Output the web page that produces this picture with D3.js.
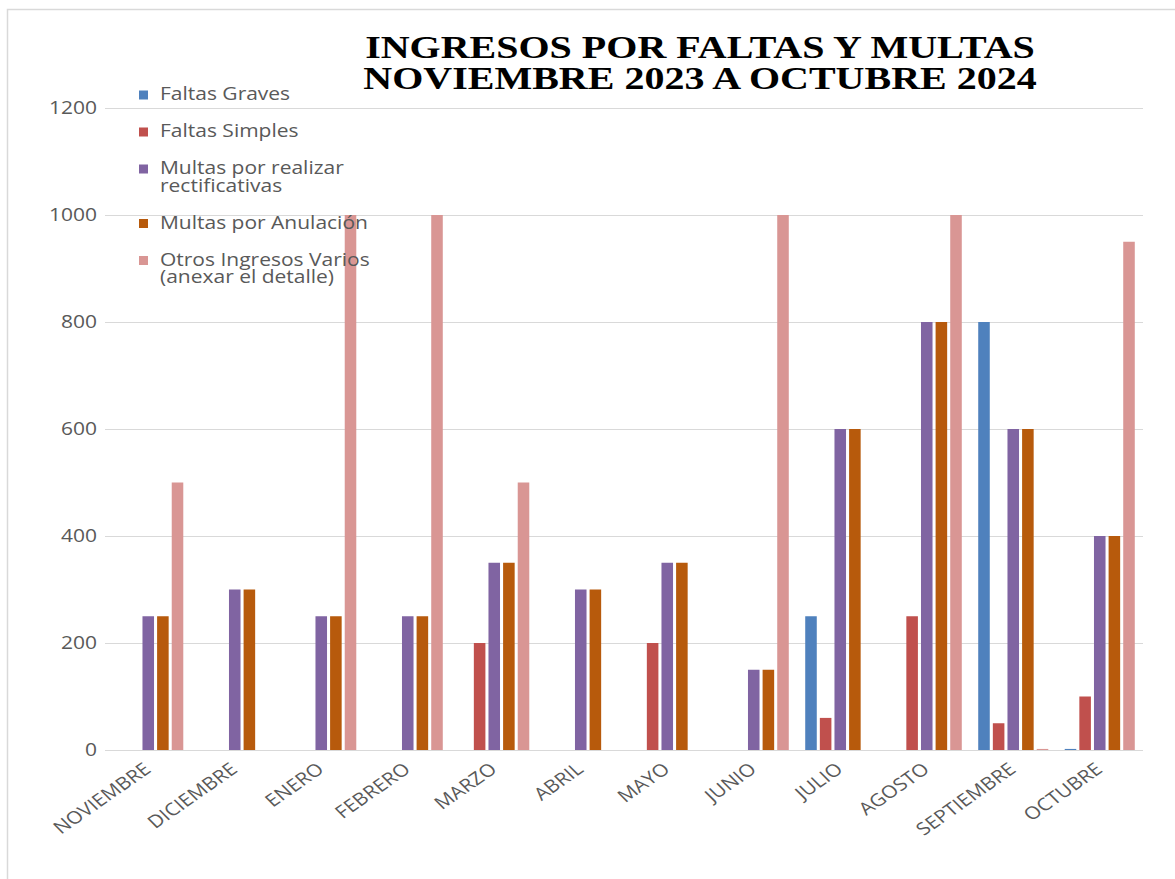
<!DOCTYPE html>
<html>
<head>
<meta charset="utf-8">
<script src="https://cdn.jsdelivr.net/npm/d3@7"></script>
<style>
  body { margin: 0; background: #fff; }
  svg { display: block; }
</style>
</head>
<body>
<svg id="chart" width="1175" height="879"></svg>
<script>
// ---------- data ----------
const months = ["NOVIEMBRE", "DICIEMBRE", "ENERO", "FEBRERO", "MARZO", "ABRIL",
                "MAYO", "JUNIO", "JULIO", "AGOSTO", "SEPTIEMBRE", "OCTUBRE"];
const seriesKeys = ["graves", "simples", "rectificativas", "anulacion", "otros"];
const legendLabels = [
  ["Faltas Graves"],
  ["Faltas Simples"],
  ["Multas por realizar", "rectificativas"],
  ["Multas por Anulación"],
  ["Otros Ingresos Varios", "(anexar el detalle)"]
];
const faltasGraves         = [0, 0, 0, 0, 0, 0, 0, 0, 250, 0, 800, 2];
const faltasSimples        = [0, 0, 0, 0, 200, 0, 200, 0, 60, 250, 50, 100];
const multasRectificativas = [250, 300, 250, 250, 350, 300, 350, 150, 600, 800, 600, 400];
const multasAnulacion      = [250, 300, 250, 250, 350, 300, 350, 150, 600, 800, 600, 400];
const otrosIngresos        = [500, 0, 1000, 1000, 500, 0, 0, 1000, 0, 1000, 2, 950];
const yTicks = [0, 200, 400, 600, 800, 1000, 1200];
const titleLines = ["INGRESOS POR FALTAS Y MULTAS", "NOVIEMBRE 2023 A OCTUBRE 2024"];
const seriesColors = ["#4f81bd", "#c0504d", "#8064a2", "#b75a0c", "#d99694"];

// ---------- build table ----------
const seriesValues = [faltasGraves, faltasSimples, multasRectificativas, multasAnulacion, otrosIngresos];
const table = months.map((m, i) => {
  const row = { month: m };
  seriesKeys.forEach((k, j) => row[k] = seriesValues[j][i]);
  return row;
});

// ---------- layout ----------
const SX = 1.2;              // horizontal text stretch of the original picture
const FONT = "'Open Sans', 'Noto Sans', sans-serif";
const TXT = "#595959";
const plot = { left: 105, right: 1143, top: 108, bottom: 750 };

const svg = d3.select("#chart");

// frame
svg.append("path")
  .attr("d", "M7.5,879 L7.5,9.5 L1175,9.5")
  .attr("fill", "none").attr("stroke", "#d9d9d9").attr("stroke-width", 1.5);

const x0 = d3.scaleBand().domain(months).range([plot.left, plot.right])
  .paddingInner(0.19).paddingOuter(0.095);
const x1 = d3.scaleBand().domain(seriesKeys).range([0, x0.bandwidth()])
  .paddingInner(0.21);
const y = d3.scaleLinear().domain([0, 1200]).range([plot.bottom, plot.top]);
const color = d3.scaleOrdinal().domain(seriesKeys).range(seriesColors);

// gridlines
svg.append("g").selectAll("line").data(yTicks).join("line")
  .attr("x1", plot.left).attr("x2", plot.right)
  .attr("y1", d => Math.round(y(d)) + 0.5).attr("y2", d => Math.round(y(d)) + 0.5)
  .attr("stroke", "#d9d9d9").attr("stroke-width", 1.2);

// helper for horizontally stretched (possibly multi-line) text
function stretchedText(parent, x, yPos, lines, opts = {}) {
  const sx = opts.sx || SX;
  const g = parent.append("g")
    .attr("transform", `translate(${x},${yPos}) scale(${sx},1)` + (opts.rotate ? ` rotate(${opts.rotate})` : ""));
  const t = g.append("text")
    .attr("x", 0).attr("y", 0)
    .attr("font-family", opts.family || FONT)
    .attr("font-size", opts.size || 17.5)
    .attr("font-weight", opts.weight || "normal")
    .attr("fill", opts.fill || TXT)
    .attr("text-anchor", opts.anchor || "start");
  if (opts.baseline) t.attr("dominant-baseline", opts.baseline);
  const arr = Array.isArray(lines) ? lines : [lines];
  arr.forEach((ln, i) => {
    t.append("tspan").attr("x", 0).attr("dy", i === 0 ? 0 : (opts.lineHeight || 17.5)).text(ln);
  });
  return t;
}

// y tick labels
const yAxisG = svg.append("g");
yTicks.forEach(v => {
  stretchedText(yAxisG, 97, y(v) - 1, String(v), { anchor: "end", baseline: "central" });
});

// bars
const groups = svg.append("g").selectAll("g").data(table).join("g")
  .attr("transform", d => `translate(${x0(d.month)},0)`);
groups.selectAll("rect")
  .data(d => seriesKeys.map(k => ({ key: k, value: d[k] })))
  .join("rect")
  .attr("x", d => x1(d.key))
  .attr("width", x1.bandwidth())
  .attr("y", d => y(d.value))
  .attr("height", d => y(0) - y(d.value))
  .attr("fill", d => color(d.key));

// x labels
const xAxisG = svg.append("g");
months.forEach(m => {
  const cx = x0(m) + x0.bandwidth() / 2;
  stretchedText(xAxisG, cx + 4, 771, m, { anchor: "end", rotate: -40 });
});

// title (one text element, two lines)
stretchedText(svg.append("g"), 700, 58, titleLines, {
  anchor: "middle", family: "'Liberation Serif', 'Times New Roman', serif",
  size: 32, weight: "bold", fill: "#000", sx: 1.25, lineHeight: 31
});

// legend
const legendG = svg.append("g");
let baseY = 100;
legendLabels.forEach((lines, i) => {
  legendG.append("rect")
    .attr("x", 139).attr("y", baseY - 9.5).attr("width", 9).attr("height", 9)
    .attr("fill", seriesColors[i]);
  stretchedText(legendG, 160, baseY, lines, { lineHeight: 17.5 });
  baseY += (lines.length - 1) * 17.5 + 37;
});
</script>
</body>
</html>
